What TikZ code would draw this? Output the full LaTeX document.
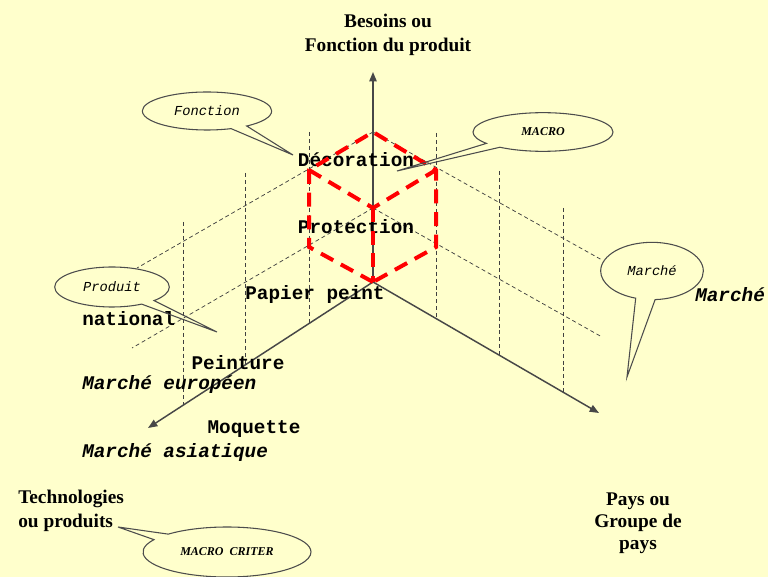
\documentclass[tikz,border=0pt]{standalone}
\usepackage{fontspec}
\setmainfont{Liberation Serif}
\setmonofont{Liberation Mono}
\usetikzlibrary{arrows.meta,shapes.callouts,calc}
\definecolor{paper}{HTML}{FFFFCC}

\tikzset{
  axisline/.style={draw=black!72, line width=1.1pt, -{Triangle[length=7pt,width=5.5pt]}},
  gridline/.style={draw=black!75, line width=0.55pt, dash pattern=on 3pt off 2.2pt},
  cubeline/.style={draw=red, line width=3pt, dash pattern=on 10.5pt off 6.5pt},
  bubble/.style={ellipse callout, draw=black!70, line width=0.8pt, inner sep=0pt,
    callout pointer arc=16, font=\fontsize{10.3}{12}\selectfont\ttfamily\itshape},
  macrotext/.style={font=\fontsize{9}{11}\selectfont\bfseries\itshape},
  cat/.style={inner sep=0pt, font=\fontsize{14.5}{17}\selectfont\ttfamily\bfseries},
  mkt/.style={inner sep=0pt, font=\fontsize{14.5}{17}\selectfont\ttfamily\bfseries\itshape},
  title/.style={inner sep=0pt, align=center, font=\fontsize{14.5}{18}\selectfont\bfseries},
}

\begin{document}
\begin{tikzpicture}[x=0.75pt, y=-0.75pt]
  % Background
  \fill[paper] (0,0) rectangle (768,577);
  \clip (0,0) rectangle (768,577);
  % Origin and axis ends
  \coordinate (O) at (373,282);
  \coordinate (besoinsTip) at (373,72);
  \coordinate (produitTip) at (148,428);
  \coordinate (paysTip) at (599,413);
  % Grid: verticals
  \foreach \x/\top/\bot in {309/132/323, 245/173/365, 183/222/405,
                            436/133/319, 499/171/355, 563/208/393}
    \draw[gridline] (\x,\top) -- (\x,\bot);
  % Grid: diagonals
  \coordinate (cubeTop) at (373,132);
  \coordinate (cubeMid) at (373,208);
  \draw[gridline] (cubeTop) -- (137,268);
  \draw[gridline] (cubeMid) -- (132,348);
  \draw[gridline] (cubeTop) -- (602,260);
  \draw[gridline] (cubeMid) -- (602,337);
  % Axes
  \draw[axisline] (O) -- (besoinsTip);
  \draw[axisline] (O) -- (produitTip);
  \draw[axisline] (O) -- (paysTip);
  % Axis titles
  \node[title] (besoins) at (388,35) {Besoins ou\\Fonction du produit};
  \node[title, align=left, anchor=west] (techno) at (18,511) {Technologies\\ou produits};
  \node[title, font=\fontsize{14.5}{16.5}\selectfont\bfseries] (pays) at (638,523) {Pays ou\\Groupe de\\pays};
  % Labels
  \node[cat] (deco) at (356,160) {Décoration};
  \node[cat] (protec) at (356,227) {Protection};
  \node[cat] (papier) at (315,295) {Papier peint};
  \node[cat] (peint) at (238,363) {Peinture};
  \node[cat] (moq) at (254,429) {Moquette};
  \node[cat, anchor=west] (nat) at (82,319) {national};
  \node[mkt, anchor=west] (euro) at (82,385) {Marché européen};
  \node[mkt, anchor=west] (asia) at (82,453) {Marché asiatique};
  \node[mkt, anchor=west] (mond) at (695,295) {Marché};
  % Cube
  \coordinate (UL) at (309,170);
  \coordinate (UR) at (436,170);
  \coordinate (LL) at (309,247);
  \coordinate (LR) at (436,247);
  \draw[cubeline] (O) -- (LL) -- (UL) -- (cubeTop) -- (UR) -- (LR) -- cycle;
  \draw[cubeline] (UL) -- (cubeMid) -- (UR);
  \draw[cubeline] (cubeMid) -- (O);
  % Bubbles
  \coordinate (fonctionTip) at (293,155);
  \coordinate (macroTip) at (397,171);
  \coordinate (prodTip) at (217,332);
  \coordinate (marcheTip) at (627,377);
  \coordinate (critTip) at (118,527);
  \node[bubble, minimum width=97pt, minimum height=28.5pt,
        callout absolute pointer={(fonctionTip)}] (fonction) at (207,111) {Fonction};
  \node[bubble, macrotext, minimum width=105pt, minimum height=29pt,
        callout absolute pointer={(macroTip)}] (macro) at (543,132) {MACRO};
  \node[bubble, minimum width=86pt, minimum height=30pt,
        callout absolute pointer={(prodTip)}] (prod) at (112,287) {Produit};
  \node[bubble, minimum width=77pt, minimum height=43pt, callout pointer arc=22,
        callout absolute pointer={(marcheTip)}] (marche) at (652,271) {Marché};
  \node[bubble, macrotext, minimum width=126pt, minimum height=37.5pt,
        callout absolute pointer={(critTip)}] (crit) at (227,552) {MACRO~~CRITER};
\end{tikzpicture}
\end{document}
